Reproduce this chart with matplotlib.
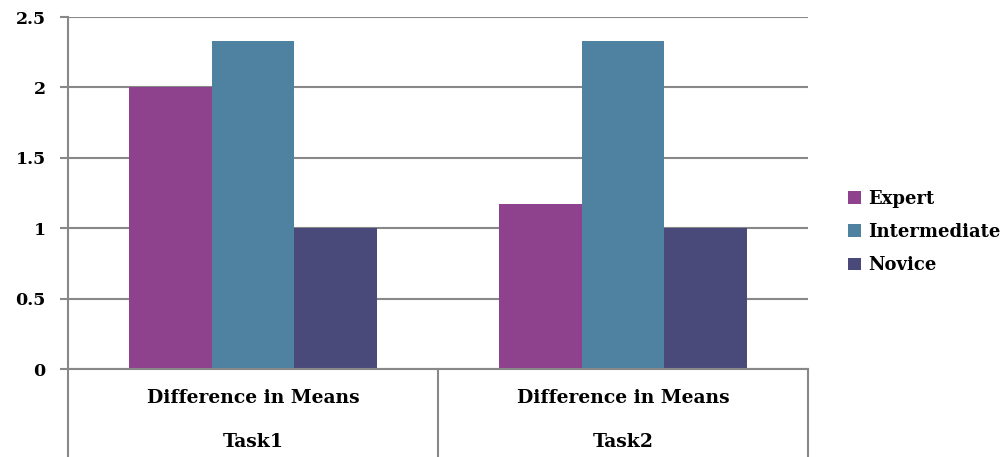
import matplotlib
matplotlib.use('Agg')
import matplotlib.pyplot as plt
import matplotlib.transforms as mtransforms
from matplotlib.patches import Patch
import numpy as np

# Values per task and skill level
tasks = ['Task1', 'Task2']
measure = 'Difference in Means'
levels = ['Expert', 'Intermediate', 'Novice']
expert = [2.0, 1.17]
intermediate = [2.33, 2.33]
novice = [1.0, 1.0]
colors = ['#8E418C', '#4F81A1', '#4A4A7A']
yticks = [0, 0.5, 1, 1.5, 2, 2.5]
ytick_labels = ['0', '0.5', '1', '1.5', '2', '2.5']

plt.rcParams['font.family'] = ['DejaVu Serif']
plt.rcParams['font.weight'] = 'bold'

fig = plt.figure(figsize=(10.07, 4.57), dpi=100)
ax = fig.add_axes([68 / 1007, 1 - 369 / 457, 740 / 1007, 352 / 457])

grid_color = '#888888'
x = np.arange(len(tasks))
w = 0.2235
for i, (vals, c) in enumerate(zip([expert, intermediate, novice], colors)):
    ax.bar(x + (i - 1) * w, vals, width=w, color=c, zorder=3)

ax.set_xlim(-0.5, len(tasks) - 0.5)
ax.set_ylim(0, 2.5)
ax.set_yticks(yticks)
ax.set_yticklabels(ytick_labels, fontsize=12.5, fontweight='bold')
ax.set_xticks([])
ax.yaxis.grid(True, color=grid_color, linewidth=1.5, zorder=0)
ax.tick_params(axis='y', length=6, width=1.5, color=grid_color, pad=10)

for s in ['top', 'right', 'bottom']:
    ax.spines[s].set_visible(False)
ax.spines['left'].set_color(grid_color)
ax.spines['left'].set_linewidth(1.5)

# Category table below the plot area
trans = mtransforms.blended_transform_factory(ax.transData, ax.transAxes)
ax.plot([-0.5, len(tasks) - 0.5], [0, 0], transform=trans, color=grid_color,
        linewidth=1.5, clip_on=False, zorder=4)
for xb in np.arange(len(tasks) + 1) - 0.5:
    ax.plot([xb, xb], [0, -0.26], transform=trans, color=grid_color,
            linewidth=1.5, clip_on=False)
for xi, t in zip(x, tasks):
    ax.text(xi, -0.082, measure, transform=trans, ha='center', va='center',
            fontsize=13.5, fontweight='bold')
    ax.text(xi, -0.207, t, transform=trans, ha='center', va='center',
            fontsize=13.5, fontweight='bold')

handles = [Patch(facecolor=c, edgecolor='none') for c in colors]
fig.legend(handles, levels, loc='center left', bbox_to_anchor=(832 / 1007, 1 - 232 / 457),
           frameon=False, prop={'size': 13, 'weight': 'bold'},
           handlelength=0.7, handleheight=0.7, handletextpad=0.4, labelspacing=0.85)

plt.savefig('out.png', dpi=100)
plt.close()
